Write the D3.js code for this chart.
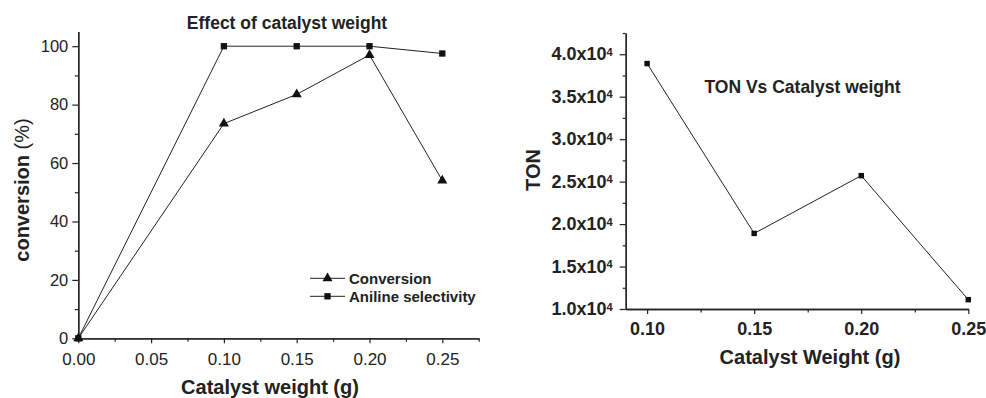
<!DOCTYPE html>
<html>
<head>
<meta charset="utf-8">
<script src="https://cdn.jsdelivr.net/npm/d3@7"></script>
<style>
  body { margin: 0; background: #fff; }
  svg { display: block; font-family: "Liberation Sans", Arial, sans-serif; }
</style>
</head>
<body>
<div id="chart"></div>
<script>
// left panel: effect of catalyst weight
const weights = [0, 0.10, 0.15, 0.20, 0.25];
const conversion = [0, 73.5, 83.5, 97, 54];
const anilineSel = [0, 100, 100, 100, 97.5];
const leftYTicks = [0, 20, 40, 60, 80, 100];
const leftXTicks = [0, 0.05, 0.10, 0.15, 0.20, 0.25];

// right panel: TON vs catalyst weight
const tonWeights = [0.10, 0.15, 0.20, 0.25];
const ton = [38900, 18900, 25700, 11100];
const rightYTicks = [10000, 15000, 20000, 25000, 30000, 35000, 40000];
const rightXTicks = [0.10, 0.15, 0.20, 0.25];

const width = 986, height = 398;
const ink = "#222";

const svg = d3.select("#chart").append("svg")
    .attr("width", width).attr("height", height)
    .attr("viewBox", [0, 0, width, height]);

// helper to style an axis group
function styleAxis(g, fontSize, weight) {
    g.select(".domain").attr("stroke", ink).attr("stroke-width", 1.3);
    g.selectAll(".tick line").attr("stroke", ink).attr("stroke-width", 1.2);
    g.selectAll(".tick text").attr("fill", ink)
        .style("font-size", fontSize + "px").style("font-weight", weight)
        .style("font-family", "'Liberation Sans', Arial, sans-serif");
}

/* ---------- left chart ---------- */
let x1 = d3.scaleLinear().domain([0, 0.275]).range([78.3, 478.7]);
let y1 = d3.scaleLinear().domain([0, 105]).range([338.3, 31.6]);

// minor ticks first
svg.append("g").attr("transform", `translate(0,${y1(0)})`)
    .call(d3.axisBottom(x1).tickValues([0.025, 0.075, 0.125, 0.175, 0.225, 0.275])
        .tickSize(3.5).tickSizeOuter(0).tickFormat(""))
    .call(g => styleAxis(g, 16, "normal"));
svg.append("g").attr("transform", `translate(${x1(0)},0)`)
    .call(d3.axisLeft(y1).tickValues([10, 30, 50, 70, 90])
        .tickSize(3.5).tickSizeOuter(0).tickFormat(""))
    .call(g => styleAxis(g, 16, "normal"));

svg.append("g").attr("transform", `translate(0,${y1(0)})`)
    .call(d3.axisBottom(x1).tickValues(leftXTicks).tickSize(5).tickSizeOuter(0)
        .tickPadding(10).tickFormat(d3.format(".2f")))
    .call(g => styleAxis(g, 17, "normal"));
svg.append("g").attr("transform", `translate(${x1(0)},0)`)
    .call(d3.axisLeft(y1).tickValues(leftYTicks).tickSize(6).tickSizeOuter(0)
        .tickPadding(4))
    .call(g => styleAxis(g, 16.5, "normal"));

const line1 = d3.line().x(d => x1(d[0])).y(d => y1(d[1]));
const convPts = weights.map((w, i) => [w, conversion[i]]);
const selPts = weights.map((w, i) => [w, anilineSel[i]]);

svg.append("path").attr("d", line1(selPts)).attr("fill", "none")
    .attr("stroke", ink).attr("stroke-width", 1);
svg.append("path").attr("d", line1(convPts)).attr("fill", "none")
    .attr("stroke", ink).attr("stroke-width", 1);

const sq = d3.symbol().type(d3.symbolSquare).size(40);
const tri = d3.symbol().type(d3.symbolTriangle).size(44);

svg.selectAll(".sel").data(selPts).join("path").attr("class", "sel")
    .attr("d", sq).attr("fill", "#111")
    .attr("transform", d => `translate(${x1(d[0])},${y1(d[1])})`);
svg.selectAll(".conv").data(convPts).join("path").attr("class", "conv")
    .attr("d", tri).attr("fill", "#111")
    .attr("transform", d => `translate(${x1(d[0])},${y1(d[1])})`);

svg.append("text").attr("x", 287).attr("y", 29.3).attr("text-anchor", "middle")
    .style("font-size", "17.5px").style("font-weight", "bold").attr("fill", ink)
    .text("Effect of catalyst weight");

svg.append("text").attr("x", 270).attr("y", 394).attr("text-anchor", "middle")
    .style("font-size", "20px").style("font-weight", "bold").attr("fill", ink)
    .text("Catalyst weight (g)");

let yl = svg.append("text").attr("transform", "translate(28.5,190) rotate(-90)")
    .attr("text-anchor", "middle").style("font-size", "20px").attr("fill", ink);
yl.append("tspan").style("font-weight", "bold").text("conversion ");
yl.append("tspan").style("font-weight", "normal").text("(%)");

// legend
const legend = [
    {name: "Conversion", sym: tri},
    {name: "Aniline selectivity", sym: sq}
];
legend.forEach((l, i) => {
    const ly = 278.3 + i * 18;
    svg.append("line").attr("x1", 310).attr("x2", 345).attr("y1", ly).attr("y2", ly)
        .attr("stroke", ink).attr("stroke-width", 1);
    svg.append("path").attr("d", l.sym).attr("fill", "#111")
        .attr("transform", `translate(327.5,${ly})`);
    svg.append("text").attr("x", 349).attr("y", ly + 5.3)
        .style("font-size", "15px").style("font-weight", "bold").attr("fill", ink)
        .text(l.name);
});

/* ---------- right chart ---------- */
let x2 = d3.scaleLinear().domain([0.09, 0.25]).range([625.7, 968.3]);
let y2 = d3.scaleLinear().domain([10000, 42500]).range([309, 33]);

svg.append("g").attr("transform", `translate(0,${y2(10000)})`)
    .call(d3.axisBottom(x2).tickValues([0.125, 0.175, 0.225])
        .tickSize(3.5).tickSizeOuter(0).tickFormat(""))
    .call(g => styleAxis(g, 18, "bold"));
svg.append("g").attr("transform", `translate(${x2(0.09)},0)`)
    .call(d3.axisLeft(y2).tickValues([12500, 17500, 22500, 27500, 32500, 37500, 42500])
        .tickSize(3).tickSizeOuter(0).tickFormat(""))
    .call(g => styleAxis(g, 18, "bold"));

svg.append("g").attr("transform", `translate(0,${y2(10000)})`)
    .call(d3.axisBottom(x2).tickValues(rightXTicks).tickSize(5).tickSizeOuter(0)
        .tickPadding(8).tickFormat(d3.format(".2f")))
    .call(g => styleAxis(g, 18, "bold"));

let ry = svg.append("g").attr("transform", `translate(${x2(0.09)},0)`)
    .call(d3.axisLeft(y2).tickValues(rightYTicks).tickSize(6).tickSizeOuter(0)
        .tickPadding(7).tickFormat(""))
    .call(g => styleAxis(g, 18, "bold"));
ry.selectAll(".tick text").each(function(d) {
    const t = d3.select(this);
    t.append("tspan").text((d / 10000).toFixed(1) + "x10");
    t.append("tspan").attr("dy", "-0.42em").style("font-size", "11px").text("4");
});

const line2 = d3.line().x(d => x2(d[0])).y(d => y2(d[1]));
const tonPts = tonWeights.map((w, i) => [w, ton[i]]);
svg.append("path").attr("d", line2(tonPts)).attr("fill", "none")
    .attr("stroke", ink).attr("stroke-width", 1);
svg.selectAll(".ton").data(tonPts).join("path").attr("class", "ton")
    .attr("d", d3.symbol().type(d3.symbolSquare).size(30)).attr("fill", "#111")
    .attr("transform", d => `translate(${x2(d[0])},${y2(d[1])})`);

svg.append("text").attr("x", 802.5).attr("y", 93.3).attr("text-anchor", "middle")
    .style("font-size", "17.5px").style("font-weight", "bold").attr("fill", ink)
    .text("TON Vs Catalyst weight");

svg.append("text").attr("x", 810).attr("y", 363.5).attr("text-anchor", "middle")
    .style("font-size", "20px").style("font-weight", "bold").attr("fill", ink)
    .text("Catalyst Weight (g)");

svg.append("text").attr("transform", "translate(540,170) rotate(-90)")
    .attr("text-anchor", "middle").style("font-size", "20px").style("font-weight", "bold")
    .attr("fill", ink).text("TON");
</script>
</body>
</html>
